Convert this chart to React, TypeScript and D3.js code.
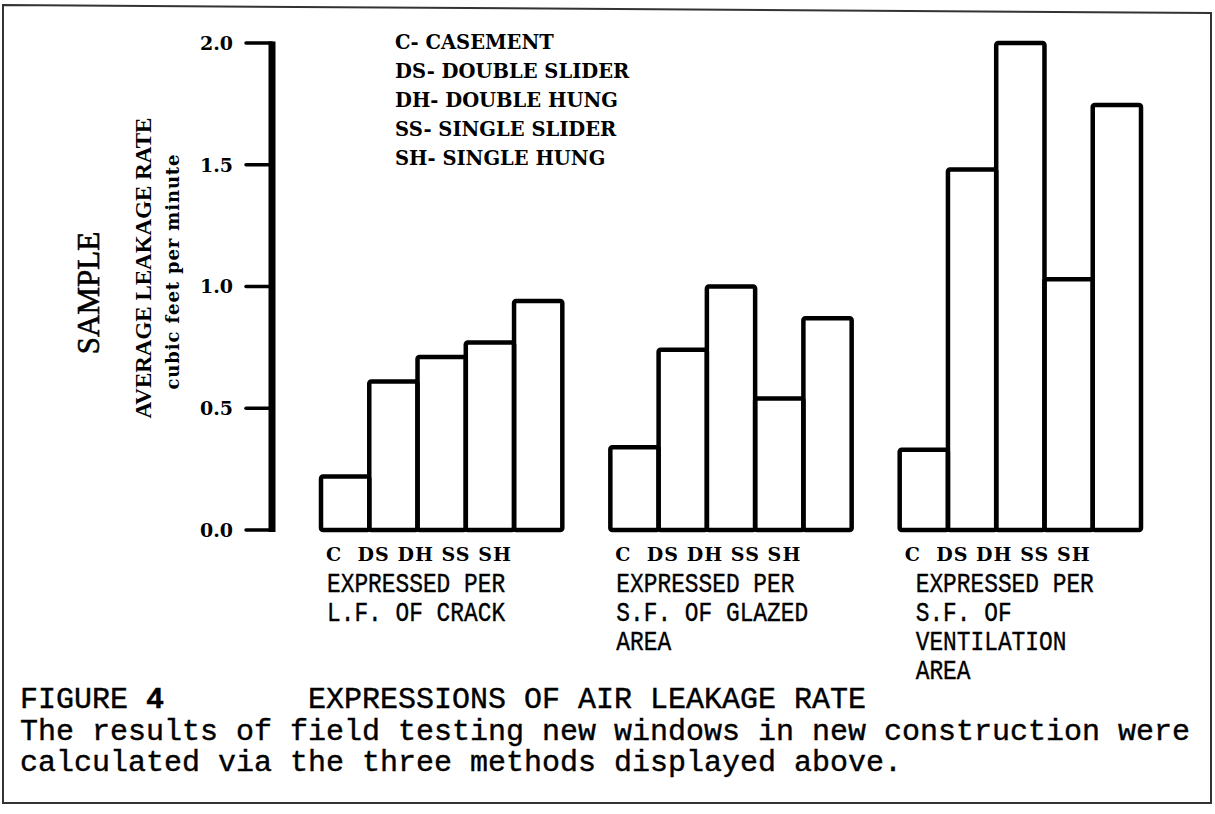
import { useEffect, useRef } from 'react'
import * as d3 from 'd3'

// window types, in bar order inside every group
const WINDOW_TYPES = ['C', 'DS', 'DH', 'SS', 'SH']
const LEGEND_LINES = [
  'C- CASEMENT',
  'DS- DOUBLE SLIDER',
  'DH- DOUBLE HUNG',
  'SS- SINGLE SLIDER',
  'SH- SINGLE HUNG'
]

// average leakage rate, cfm
const CRACK_VALUES = [0.22, 0.61, 0.71, 0.77, 0.94]
const GLAZED_VALUES = [0.34, 0.74, 1.0, 0.54, 0.87]
const VENTILATION_VALUES = [0.33, 1.48, 2.0, 1.03, 1.745]

const GROUP_KEYS = ['crack', 'glazed', 'ventilation']
const GROUP_CAPTIONS = [
  ['EXPRESSED PER', 'L.F. OF CRACK'],
  ['EXPRESSED PER', 'S.F. OF GLAZED', 'AREA'],
  ['EXPRESSED PER', 'S.F. OF', 'VENTILATION', 'AREA']
]

const Y_TICKS = [0, 0.5, 1.0, 1.5, 2.0]
const X_LABEL_ROW = 'C  DS DH SS SH'

const FIGURE_TITLE = ['FIGURE ', '4', '        EXPRESSIONS OF AIR LEAKAGE RATE']
const FIGURE_TEXT = [
  'The results of field testing new windows in new construction were',
  'calculated via the three methods displayed above.'
]

const W = 1215
const H = 814
const SERIF_BOLD = '"DejaVu Serif", serif'
const TIMES = '"Liberation Serif", serif'
const MONO = '"Liberation Mono", monospace'
const PITCH = 18 // typewriter character pitch of the caption

export default function App() {
  const svgRef = useRef<SVGSVGElement>(null)

  useEffect(() => {
    if (!svgRef.current) return
    const svg = d3.select(svgRef.current)
    svg.selectAll('*').remove()

    const groupValues = [CRACK_VALUES, GLAZED_VALUES, VENTILATION_VALUES]

    // scales
    const y = d3.scaleLinear().domain([0, 2]).range([530, 43])
    const xGroup = d3.scaleBand()
      .domain(GROUP_KEYS)
      .range([321, 1141])
      .paddingInner(0.166)
    const xBar = d3.scaleBand()
      .domain(WINDOW_TYPES)
      .range([0, xGroup.bandwidth()])
      .padding(0)

    svg.append('rect')
      .attr('width', W).attr('height', H).attr('fill', '#fff')

    // scanned page frame, a touch crooked at the top
    svg.append('path')
      .attr('d', `M3,5 L1211,13 L1211,803 L3,803 Z`)
      .attr('fill', 'none')
      .attr('stroke', '#333')
      .attr('stroke-width', 2)

    // y axis
    const axisX = 272
    const axis = svg.append('g')
    axis.append('line')
      .attr('x1', axisX).attr('x2', axisX)
      .attr('y1', y(2) - 1.5).attr('y2', y(0) + 2)
      .attr('stroke', '#000').attr('stroke-width', 7)
    axis.selectAll('line.tick')
      .data(Y_TICKS)
      .join('line')
      .attr('class', 'tick')
      .attr('x1', 246).attr('x2', axisX)
      .attr('y1', d => y(d)).attr('y2', d => y(d))
      .attr('stroke', '#000').attr('stroke-width', 3.5)
      .attr('stroke-linecap', 'round')
    axis.selectAll('text')
      .data(Y_TICKS)
      .join('text')
      .attr('x', 233)
      .attr('y', d => y(d))
      .attr('dy', '0.36em')
      .attr('text-anchor', 'end')
      .style('font-family', SERIF_BOLD)
      .style('font-weight', 'bold')
      .style('font-size', '19px')
      .text(d => d3.format('.1f')(d))

    // axis titles
    svg.append('text')
      .attr('transform', 'translate(88,293) rotate(-90)')
      .attr('text-anchor', 'middle')
      .attr('dy', '0.35em')
      .style('font-family', TIMES)
      .style('font-size', '31px')
      .style('stroke', '#000')
      .style('stroke-width', 0.6)
      .text('SAMPLE')
    svg.append('text')
      .attr('transform', 'translate(143,268) rotate(-90)')
      .attr('text-anchor', 'middle')
      .attr('dy', '0.35em')
      .style('font-family', TIMES)
      .style('font-weight', 'bold')
      .style('font-size', '23px')
      .text('AVERAGE LEAKAGE RATE')
    svg.append('text')
      .attr('transform', 'translate(173,272) rotate(-90)')
      .attr('text-anchor', 'middle')
      .attr('dy', '0.35em')
      .attr('textLength', 235)
      .attr('lengthAdjust', 'spacing')
      .style('font-family', SERIF_BOLD)
      .style('font-weight', 'bold')
      .style('font-size', '18px')
      .text('cubic feet per minute')

    // legend
    svg.append('g')
      .selectAll('text')
      .data(LEGEND_LINES)
      .join('text')
      .attr('x', 395)
      .attr('y', (_, i) => 49 + i * 29)
      .style('font-family', SERIF_BOLD)
      .style('font-weight', 'bold')
      .style('font-size', '19.5px')
      .text(d => d)

    // bar groups
    const groups = svg.append('g')
      .selectAll('g.group')
      .data(GROUP_KEYS)
      .join('g')
      .attr('class', 'group')
      .attr('transform', d => `translate(${xGroup(d)},0)`)

    groups.selectAll('rect')
      .data((_, gi) => groupValues[gi].map((v, i) => ({ type: WINDOW_TYPES[i], value: v })))
      .join('rect')
      .attr('x', d => xBar(d.type)!)
      .attr('y', d => y(d.value))
      .attr('width', xBar.bandwidth())
      .attr('height', d => y(0) - y(d.value))
      .attr('rx', 2)
      .attr('fill', 'none')
      .attr('stroke', '#000')
      .attr('stroke-width', 4.5)
      .attr('stroke-linejoin', 'round')

    // window type row under each group
    groups.append('text')
      .attr('x', 5)
      .attr('y', 561)
      .attr('textLength', 185)
      .attr('lengthAdjust', 'spacing')
      .style('white-space', 'pre')
      .style('font-family', SERIF_BOLD)
      .style('font-weight', 'bold')
      .style('font-size', '19px')
      .text(X_LABEL_ROW)

    // typed group captions
    groups.each(function (_, gi) {
      d3.select(this).selectAll('text.caption')
        .data(GROUP_CAPTIONS[gi])
        .join('text')
        .attr('class', 'caption')
        .attr('x', gi === 2 ? 16 : 6)
        .attr('y', (_, li) => 592 + li * 29)
        .attr('textLength', d => d.length * 13.7)
        .attr('lengthAdjust', 'spacingAndGlyphs')
        .style('white-space', 'pre')
        .style('font-family', MONO)
        .style('font-size', '28px')
        .style('stroke', '#000')
        .style('stroke-width', 0.4)
        .text(d => d)
    })

    // figure caption
    const title = svg.append('text')
      .attr('x', 20)
      .attr('y', 708)
      .attr('textLength', FIGURE_TITLE.join('').length * PITCH)
      .attr('lengthAdjust', 'spacingAndGlyphs')
      .style('white-space', 'pre')
      .style('font-family', MONO)
      .style('font-size', '29px')
      .style('stroke', '#000')
      .style('stroke-width', 0.4)
    title.selectAll('tspan')
      .data(FIGURE_TITLE)
      .join('tspan')
      .style('font-weight', (_, i) => (i === 1 ? 'bold' : 'normal'))
      .text(d => d)

    svg.append('g')
      .selectAll('text')
      .data(FIGURE_TEXT)
      .join('text')
      .attr('x', 20)
      .attr('y', (_, i) => 740 + i * 31)
      .attr('textLength', d => d.length * PITCH)
      .attr('lengthAdjust', 'spacingAndGlyphs')
      .style('white-space', 'pre')
      .style('font-family', MONO)
      .style('font-size', '29px')
      .style('stroke', '#000')
      .style('stroke-width', 0.4)
      .text(d => d)
  }, [])

  return (
    <svg
      ref={svgRef}
      width={W}
      height={H}
      style={{ position: 'absolute', left: 0, top: 0, display: 'block' }}
    />
  )
}
